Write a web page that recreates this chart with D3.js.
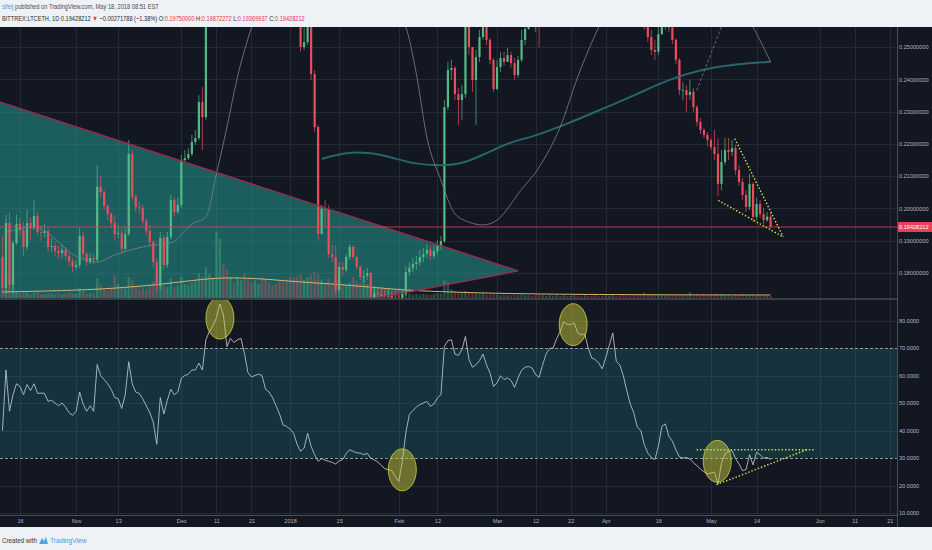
<!DOCTYPE html>
<html>
<head>
<meta charset="utf-8">
<script src="https://cdnjs.cloudflare.com/ajax/libs/d3/7.8.5/d3.min.js"></script>
<style>
body { margin: 0; background: #eef1f6; }
svg { display: block; font-family: "Liberation Sans", Arial, sans-serif; }
</style>
</head>
<body>
<script>
// daily candles, BITTREX:LTCETH, from 2017-10-11 to 2018-05-18
var firstDay = '2017-10-11';
var lastDay = '2018-05-18';
var firstOpen = 0.1850;

var closes = [
  0.1754, 0.1955, 0.1763, 0.1893, 0.1952, 0.1933, 0.1881, 0.1955, 0.1940, 0.1977,
  0.1927, 0.1924, 0.1930, 0.1881, 0.1884, 0.1868, 0.1862, 0.1872, 0.1853, 0.1837,
  0.1819, 0.1825, 0.1915, 0.1859, 0.1834, 0.1847, 0.1841, 0.2067, 0.2051, 0.2008,
  0.1983, 0.1955, 0.1921, 0.1924, 0.1875, 0.1921, 0.2169, 0.2036, 0.2005, 0.2002,
  0.1961, 0.1930, 0.1896, 0.1834, 0.1760, 0.1909, 0.1825, 0.1912, 0.2026, 0.1989,
  0.2011, 0.2150, 0.2156, 0.2169, 0.2206, 0.2218, 0.2330, 0.2283, 0.2700, 0.2900,
  0.3100, 0.3400, 0.4000, 0.3800, 0.3300, 0.3500, 0.3400, 0.3500, 0.3600, 0.3400,
  0.3150, 0.3100, 0.3120, 0.3150, 0.3130, 0.3000, 0.2980, 0.2940, 0.2880, 0.2820,
  0.2750, 0.2740, 0.2720, 0.2700, 0.2640, 0.2500, 0.2515, 0.2580, 0.2416, 0.2252,
  0.1921, 0.1998, 0.1995, 0.1859, 0.1850, 0.1748, 0.1819, 0.1810, 0.1850, 0.1881,
  0.1850, 0.1819, 0.1788, 0.1791, 0.1800, 0.1726, 0.1738, 0.1735, 0.1729, 0.1726,
  0.1729, 0.1723, 0.1717, 0.1707, 0.1735, 0.1803, 0.1816, 0.1828, 0.1834, 0.1850,
  0.1859, 0.1872, 0.1853, 0.1868, 0.1884, 0.1899, 0.2314, 0.2429, 0.2435, 0.2354,
  0.2336, 0.2354, 0.2600, 0.2500, 0.2398, 0.2469, 0.2531, 0.2600, 0.2522, 0.2460,
  0.2370, 0.2438, 0.2466, 0.2454, 0.2475, 0.2450, 0.2413, 0.2460, 0.2522, 0.2556,
  0.2610, 0.2600, 0.2590, 0.2565, 0.2640, 0.2700, 0.2730, 0.2740, 0.2800, 0.2880,
  0.2980, 0.2960, 0.2960, 0.2990, 0.2930, 0.2920, 0.2930, 0.2850, 0.2800, 0.2790,
  0.2770, 0.2750, 0.2800, 0.2860, 0.2950, 0.2800, 0.2780, 0.2740, 0.2710, 0.2680,
  0.2650, 0.2620, 0.2610, 0.2575, 0.2531, 0.2491, 0.2485, 0.2540, 0.2580, 0.2590,
  0.2560, 0.2522, 0.2460, 0.2367, 0.2367, 0.2351, 0.2361, 0.2314, 0.2268, 0.2243,
  0.2228, 0.2212, 0.2190, 0.2169, 0.2076, 0.2144, 0.2181, 0.2175, 0.2187, 0.2119,
  0.2082, 0.2042, 0.2005, 0.2076, 0.1974, 0.2014, 0.1983, 0.1964, 0.1975, 0.19428212
];

var highs = [
  0.1918, 0.1980, 0.1989, 0.1902, 0.1980, 0.1971, 0.1958, 0.1995, 0.1971, 0.2026,
  0.1989, 0.1949, 0.1952, 0.1940, 0.1909, 0.1896, 0.1884, 0.1890, 0.1881, 0.1865,
  0.1847, 0.1841, 0.1940, 0.1927, 0.1865, 0.1862, 0.1859, 0.2135, 0.2101, 0.2057,
  0.2011, 0.1989, 0.1977, 0.1949, 0.1940, 0.1946, 0.2212, 0.2181, 0.2045, 0.2020,
  0.2011, 0.1971, 0.1949, 0.1902, 0.1847, 0.1927, 0.1918, 0.1927, 0.2042, 0.2033,
  0.2033, 0.2166, 0.2181, 0.2187, 0.2228, 0.2243, 0.2351, 0.2376, 0.2850, 0.3000,
  0.3250, 0.3550, 0.4200, 0.4100, 0.3800, 0.3600, 0.3550, 0.3600, 0.3700, 0.3650,
  0.3450, 0.3250, 0.3250, 0.3250, 0.3250, 0.3150, 0.3080, 0.3020, 0.2980, 0.2920,
  0.2850, 0.2800, 0.2790, 0.2760, 0.2720, 0.2680, 0.2600, 0.2650, 0.2600, 0.2429,
  0.2259, 0.2011, 0.2026, 0.2011, 0.1887, 0.1887, 0.1834, 0.1834, 0.1859, 0.1890,
  0.1887, 0.1856, 0.1825, 0.1810, 0.1816, 0.1803, 0.1760, 0.1757, 0.1754, 0.1748,
  0.1748, 0.1745, 0.1741, 0.1735, 0.1748, 0.1822, 0.1834, 0.1847, 0.1853, 0.1872,
  0.1878, 0.1890, 0.1884, 0.1887, 0.1902, 0.1915, 0.2336, 0.2454, 0.2460, 0.2441,
  0.2373, 0.2382, 0.2680, 0.2650, 0.2491, 0.2491, 0.2553, 0.2650, 0.2640, 0.2528,
  0.2466, 0.2460, 0.2485, 0.2485, 0.2497, 0.2485, 0.2466, 0.2472, 0.2553, 0.2600,
  0.2650, 0.2660, 0.2650, 0.2620, 0.2680, 0.2750, 0.2780, 0.2790, 0.2850, 0.2950,
  0.3050, 0.3020, 0.3010, 0.3050, 0.3000, 0.2980, 0.2980, 0.2940, 0.2870, 0.2840,
  0.2820, 0.2800, 0.2840, 0.2900, 0.3000, 0.2960, 0.2830, 0.2800, 0.2760, 0.2730,
  0.2700, 0.2670, 0.2650, 0.2640, 0.2600, 0.2553, 0.2522, 0.2562, 0.2620, 0.2630,
  0.2610, 0.2580, 0.2528, 0.2466, 0.2392, 0.2382, 0.2398, 0.2373, 0.2320, 0.2280,
  0.2249, 0.2237, 0.2218, 0.2243, 0.2218, 0.2181, 0.2218, 0.2218, 0.2212, 0.2197,
  0.2135, 0.2094, 0.2057, 0.2107, 0.2082, 0.2033, 0.2026, 0.2002, 0.1989, 0.19872272
];

var lows = [
  0.1735, 0.1741, 0.1748, 0.1741, 0.1887, 0.1915, 0.1853, 0.1872, 0.1902, 0.1933,
  0.1915, 0.1902, 0.1909, 0.1865, 0.1865, 0.1853, 0.1844, 0.1847, 0.1841, 0.1822,
  0.1803, 0.1810, 0.1816, 0.1844, 0.1822, 0.1828, 0.1828, 0.1834, 0.2033, 0.1995,
  0.1964, 0.1940, 0.1902, 0.1909, 0.1859, 0.1865, 0.1915, 0.2026, 0.1989, 0.1983,
  0.1949, 0.1915, 0.1884, 0.1816, 0.1741, 0.1748, 0.1810, 0.1816, 0.1902, 0.1977,
  0.1983, 0.2002, 0.2141, 0.2150, 0.2163, 0.2197, 0.2212, 0.2181, 0.2274, 0.2650,
  0.2850, 0.3050, 0.3350, 0.3500, 0.3150, 0.3250, 0.3300, 0.3350, 0.3450, 0.3300,
  0.3050, 0.3000, 0.3050, 0.3050, 0.3050, 0.2950, 0.2900, 0.2870, 0.2830, 0.2760,
  0.2700, 0.2680, 0.2660, 0.2640, 0.2600, 0.2485, 0.2491, 0.2506, 0.2398, 0.2237,
  0.1902, 0.1921, 0.1940, 0.1847, 0.1834, 0.1735, 0.1741, 0.1791, 0.1803, 0.1841,
  0.1841, 0.1810, 0.1779, 0.1772, 0.1779, 0.1717, 0.1717, 0.1714, 0.1711, 0.1707,
  0.1711, 0.1704, 0.1698, 0.1686, 0.1698, 0.1729, 0.1791, 0.1803, 0.1810, 0.1822,
  0.1834, 0.1847, 0.1841, 0.1844, 0.1856, 0.1872, 0.1893, 0.2305, 0.2398, 0.2336,
  0.2259, 0.2274, 0.2342, 0.2475, 0.2361, 0.2259, 0.2454, 0.2522, 0.2506, 0.2447,
  0.2361, 0.2367, 0.2423, 0.2441, 0.2454, 0.2435, 0.2398, 0.2404, 0.2454, 0.2506,
  0.2553, 0.2570, 0.2546, 0.2500, 0.2570, 0.2620, 0.2680, 0.2700, 0.2720, 0.2780,
  0.2860, 0.2900, 0.2910, 0.2920, 0.2880, 0.2870, 0.2880, 0.2830, 0.2770, 0.2760,
  0.2740, 0.2720, 0.2730, 0.2790, 0.2840, 0.2760, 0.2740, 0.2700, 0.2680, 0.2650,
  0.2620, 0.2590, 0.2580, 0.2553, 0.2515, 0.2475, 0.2460, 0.2475, 0.2537, 0.2553,
  0.2546, 0.2509, 0.2447, 0.2351, 0.2336, 0.2299, 0.2336, 0.2299, 0.2255, 0.2231,
  0.2218, 0.2193, 0.2181, 0.2150, 0.2039, 0.2057, 0.2135, 0.2150, 0.2163, 0.2104,
  0.2070, 0.2026, 0.1989, 0.1995, 0.1958, 0.1964, 0.1971, 0.1952, 0.1958, 0.19369937
];

var volumes = [
  12, 30, 26, 18, 9, 7, 9, 8, 6, 7,
  8, 6, 5, 7, 6, 5, 6, 5, 6, 8,
  7, 6, 14, 10, 6, 7, 6, 28, 20, 12,
  10, 14, 33, 20, 15, 14, 30, 26, 16, 12,
  15, 12, 18, 24, 30, 24, 18, 16, 28, 16,
  18, 30, 20, 18, 22, 24, 35, 30, 44, 34,
  28, 95, 85, 50, 40, 30, 22, 30, 25, 35,
  28, 22, 25, 20, 30, 26, 22, 18, 20, 24,
  22, 26, 30, 28, 32, 34, 26, 30, 34, 38,
  34, 26, 22, 28, 18, 30, 24, 20, 18, 22,
  30, 24, 22, 32, 20, 18, 16, 14, 16, 14,
  12, 10, 12, 14, 10, 8, 6, 5, 6, 5,
  6, 5, 5, 6, 7, 6, 25, 22, 12, 10,
  8, 7, 10, 8, 7, 8, 6, 7, 5, 5,
  6, 5, 4, 5, 4, 4, 5, 4, 5, 4,
  4, 3, 4, 5, 4, 3, 4, 3, 4, 3,
  4, 3, 3, 4, 3, 3, 4, 3, 3, 4,
  3, 3, 4, 3, 4, 3, 3, 4, 3, 4,
  4, 5, 4, 8, 6, 5, 5, 4, 5, 4,
  4, 4, 5, 6, 4, 5, 8, 4, 5, 4,
  4, 5, 4, 4, 6, 5, 4, 4, 3, 4,
  4, 5, 4, 4, 4, 3, 4, 3, 3, 3
];

var rsi = [
  40, 62, 47, 53, 57, 56, 53, 56.7, 54.5, 57,
  53.5, 53.6, 53.5, 50.6, 51, 50, 49, 50, 48.5, 46.5,
  45.5, 47, 54, 49.6, 47, 49, 47, 64, 60, 58.5,
  57, 55, 52, 51.5, 48, 53, 65, 57, 54, 53.5,
  51.5, 49, 46.5, 43, 35, 52, 46, 51, 55, 53,
  54, 59, 60, 60.5, 62, 62, 64.5, 62, 73, 76,
  78, 81, 86, 82, 70.5, 73.5, 72, 73, 73.5, 68,
  61, 59.5, 60, 60.5, 60, 55, 54, 52, 49, 46,
  42, 41.5, 40.5, 39, 35, 32.4, 33.6, 39, 34.2, 31.2,
  28.8, 29.8, 29.2, 28.8, 28.4, 27.8, 29, 29.4, 31.6, 33,
  32.4, 31.9, 31.8, 31.2, 31.7, 29.9, 29.3, 28.6, 27.3, 26.1,
  25.8, 25.4, 23.3, 21.5, 28.8, 39.1, 45.8, 47.3, 48.5, 49.4,
  50, 50.6, 48.8, 49.6, 51.8, 53, 70.6, 72.7, 73, 67.8,
  67.3, 69.4, 74.2, 65.8, 63, 63.9, 65.4, 67.8, 63.9, 60.9,
  56, 57.3, 59.9, 58.5, 59.1, 58.2, 55.7, 59.1, 61.9, 63,
  63.3, 62.7, 60.3, 59.3, 63.9, 67.8, 69.8, 70, 73.4, 76,
  79.5, 78.5, 78.5, 79.1, 75.5, 74.8, 75.1, 70, 66.4, 65.8,
  64.5, 62.4, 66.5, 70.9, 75.5, 65.2, 63.9, 60, 54.5, 49.6,
  46.4, 41.2, 40, 34.8, 31.8, 30.2, 29.4, 34.2, 41.5, 42.4,
  37.9, 36.1, 33, 30.4, 30, 30.2, 29.6, 28.3, 27.2, 26,
  25, 24.3, 24.5, 24.9, 20.5, 28.2, 31.4, 32.4, 32.7, 29.8,
  27.8, 25.4, 25.8, 31.2, 27.5, 32.1, 31.2, 30, 30.2, 29.4
];

// moving averages: [date, value]
var maSlow = [
  ['2018-01-10', 0.2153], ['2018-01-16', 0.2172], ['2018-01-23', 0.2175], ['2018-01-30', 0.2159],
  ['2018-02-05', 0.2138], ['2018-02-13', 0.2132], ['2018-02-19', 0.2138], ['2018-02-25', 0.2166],
  ['2018-03-03', 0.2197], ['2018-03-07', 0.2212], ['2018-03-11', 0.2221], ['2018-03-21', 0.2262],
  ['2018-03-31', 0.2308], ['2018-04-10', 0.2354], ['2018-04-19', 0.2401], ['2018-04-29', 0.2432],
  ['2018-05-08', 0.2447], ['2018-05-18', 0.2454]
];
var maFast = [
  ['2017-10-12', 0.1927], ['2017-10-20', 0.1942], ['2017-11-02', 0.1847], ['2017-11-07', 0.1834],
  ['2017-11-12', 0.1856], ['2017-11-23', 0.1887], ['2017-11-28', 0.1893], ['2017-12-04', 0.1952],
  ['2017-12-08', 0.1974], ['2017-12-11', 0.2107], ['2017-12-14', 0.2252], ['2017-12-17', 0.2407],
  ['2017-12-21', 0.2562], ['2017-12-28', 0.2800], ['2018-01-10', 0.2950], ['2018-01-25', 0.2700],
  ['2018-02-03', 0.2562], ['2018-02-06', 0.2417], ['2018-02-09', 0.2221], ['2018-02-13', 0.2088],
  ['2018-02-17', 0.1984], ['2018-02-21', 0.1958], ['2018-02-25', 0.1949], ['2018-03-01', 0.1964],
  ['2018-03-05', 0.2014], ['2018-03-07', 0.2045], ['2018-03-13', 0.2128], ['2018-03-19', 0.2252],
  ['2018-03-24', 0.2407], ['2018-03-30', 0.2562], ['2018-04-15', 0.2800], ['2018-05-05', 0.2700],
  ['2018-05-13', 0.2562], ['2018-05-18', 0.2454]
];
var volMa = [
  ['2017-10-11', 8.6], ['2017-11-07', 11.4], ['2017-11-27', 20], ['2017-12-11', 30],
  ['2017-12-23', 28], ['2018-01-03', 23], ['2018-01-18', 18.6], ['2018-02-01', 11.4],
  ['2018-02-15', 8.6], ['2018-03-07', 5.7], ['2018-04-13', 4.5], ['2018-05-18', 4.3]
];

// drawings
var triangle = [['2017-10-10', 0.2331], ['2018-03-07', 0.1807], ['2017-10-10', 0.1496]];
var wedgeTop = [['2018-05-07T19:00Z', 0.2216], ['2018-05-21T14:00Z', 0.1912]];
var wedgeBottom = [['2018-05-03T02:00Z', 0.2025], ['2018-05-21T14:00Z', 0.1912]];
var dashedTrend = [['2018-04-26T22:00Z', 0.2366], ['2018-05-06T10:00Z', 0.2630]];
var rsiFlat = [['2018-04-26T22:00Z', 33], ['2018-05-30T14:00Z', 33]];
var rsiRising = [['2018-05-02T14:00Z', 20.3], ['2018-05-28T07:00Z', 33]];
var rsiCircles = [['2017-12-12', 80.9], ['2018-02-02', 25.7], ['2018-03-22T17:00Z', 78.5], ['2018-05-02T19:00Z', 28.8]];

var priceTicks = [0.18, 0.19, 0.20, 0.21, 0.22, 0.23, 0.24, 0.25];
var rsiTicks = [10, 20, 30, 40, 50, 60, 70, 80];
var timeTicks = ['2017-10-16', '2017-11-01', '2017-11-13', '2017-12-01', '2017-12-11', '2017-12-21',
  '2018-01-01', '2018-01-15', '2018-02-01', '2018-02-12', '2018-03-01', '2018-03-12', '2018-03-22',
  '2018-04-01', '2018-04-16', '2018-05-01', '2018-05-14', '2018-06-01', '2018-06-11', '2018-06-21'];
var timeLabels = ['16', 'Nov', '13', 'Dec', '11', '21', '2018', '15', 'Feb', '12', 'Mar', '12', '22',
  'Apr', '16', 'May', '14', 'Jun', '11', '21'];

var lastPrice = 0.19428212;

var UP = '#53b987', DOWN = '#eb4d5c';
var paneRight = 897, priceTop = 27, priceBottom = 298, rsiTop = 300, rsiBottom = 515, chartBottom = 527;

var start = new Date(firstDay), end = new Date(lastDay);
var days = closes.map(function (c, i) { return d3.utcDay.offset(start, i); });
var opens = closes.map(function (c, i) { return i === 0 ? firstOpen : closes[i - 1]; });

var x = d3.scaleUtc().domain([start, end]).range([2.46, 770.6]);
var y = d3.scaleLinear().domain([0.18, 0.25]).range([273.1, 47]);
var yr = d3.scaleLinear().domain([30, 70]).range([458, 348]);
var yv = d3.scaleLinear().domain([0, 100]).range([priceBottom, 228]);

function px(d) { return x(new Date(d[0])); }

var svg = d3.select('body').append('svg').attr('width', 932).attr('height', 550);
var defs = svg.append('defs');
defs.append('clipPath').attr('id', 'clipPrice').append('rect')
  .attr('x', 0).attr('y', priceTop).attr('width', paneRight).attr('height', priceBottom - priceTop);
defs.append('clipPath').attr('id', 'clipRsi').append('rect')
  .attr('x', 0).attr('y', rsiTop).attr('width', paneRight).attr('height', rsiBottom - rsiTop);
defs.append('clipPath').attr('id', 'clipRsiAxis').append('rect')
  .attr('x', paneRight).attr('y', rsiTop).attr('width', 40).attr('height', rsiBottom - rsiTop);

// squeeze a text horizontally so it fills the given width (the reference uses a narrow face)
function fitWidth(g, x0, width) {
  var len = g.node().getBBox().width;
  g.attr('transform', 'translate(' + x0 + ',0) scale(' + (width / len) + ',1)');
}

// chart background
svg.append('rect').attr('x', 0).attr('y', priceTop).attr('width', 932).attr('height', chartBottom - priceTop)
  .attr('fill', '#131722');

// header
var hg1 = svg.append('g');
var h1 = hg1.append('text').attr('x', 0).attr('y', 9).attr('font-size', 7.6).attr('fill', '#4a4a4a');
h1.append('tspan').attr('fill', '#3d9ee0').text('sifeij');
h1.append('tspan').text(' published on TradingView.com, May 18, 2018 08:51 EST');
fitWidth(hg1, 2, 157);

var hg2 = svg.append('g');
var h2 = hg2.append('text').attr('x', 0).attr('y', 21).attr('font-size', 7.6).attr('fill', '#2a2a2a');
h2.append('tspan').text('BITTREX:LTCETH, 1D 0.19428212 ');
h2.append('tspan').attr('fill', '#e5353f').text('\u25BC');
h2.append('tspan').text(' \u22120.00271788 (\u22121.38%) O:');
h2.append('tspan').attr('fill', '#e5353f').text('0.19750000');
h2.append('tspan').text(' H:');
h2.append('tspan').attr('fill', '#e5353f').text('0.19872272');
h2.append('tspan').text(' L:');
h2.append('tspan').attr('fill', '#e5353f').text('0.19369937');
h2.append('tspan').text(' C:');
h2.append('tspan').attr('fill', '#e5353f').text('0.19428212');
fitWidth(hg2, 2, 303);

// grid
var grid = svg.append('g').attr('stroke', '#242935').attr('stroke-width', 1);
grid.selectAll('.vg').data(timeTicks).enter().append('line')
  .attr('x1', function (d) { return Math.round(x(new Date(d))) + 0.5; })
  .attr('x2', function (d) { return Math.round(x(new Date(d))) + 0.5; })
  .attr('y1', priceTop).attr('y2', rsiBottom);
grid.selectAll('.hg').data(priceTicks).enter().append('line')
  .attr('x1', 0).attr('x2', paneRight)
  .attr('y1', function (d) { return Math.round(y(d)) + 0.5; })
  .attr('y2', function (d) { return Math.round(y(d)) + 0.5; });
grid.selectAll('.rg').data(rsiTicks.filter(function (d) { return d !== 30 && d !== 70; })).enter().append('line')
  .attr('x1', 0).attr('x2', paneRight)
  .attr('y1', function (d) { return Math.round(yr(d)) + 0.5; })
  .attr('y2', function (d) { return Math.round(yr(d)) + 0.5; });

// price pane
var price = svg.append('g').attr('clip-path', 'url(#clipPrice)');

price.append('path')
  .attr('d', d3.line().x(px).y(function (d) { return y(d[1]); })(triangle) + 'Z')
  .attr('fill', 'rgba(38,166,154,0.5)');

price.selectAll('.vol').data(volumes).enter().append('rect')
  .attr('x', function (d, i) { return x(days[i]) - 1.2; })
  .attr('width', 2.4)
  .attr('y', function (d) { return yv(d); })
  .attr('height', function (d) { return priceBottom - yv(d); })
  .attr('fill', function (d, i) { return closes[i] >= opens[i] ? UP : DOWN; })
  .attr('opacity', 0.35);

price.append('path')
  .attr('d', d3.line().x(px).y(function (d) { return yv(d[1]); }).curve(d3.curveBasis)(volMa))
  .attr('fill', 'none').attr('stroke', '#d8b26a').attr('stroke-width', 1);

var candle = price.selectAll('.candle').data(closes).enter().append('g')
  .attr('fill', function (d, i) { return d >= opens[i] ? UP : DOWN; })
  .attr('stroke', function (d, i) { return d >= opens[i] ? UP : DOWN; });
candle.append('line')
  .attr('x1', function (d, i) { return x(days[i]); })
  .attr('x2', function (d, i) { return x(days[i]); })
  .attr('y1', function (d, i) { return y(highs[i]); })
  .attr('y2', function (d, i) { return y(lows[i]); })
  .attr('stroke-width', 0.7);
candle.append('rect')
  .attr('stroke', 'none')
  .attr('x', function (d, i) { return x(days[i]) - 1.1; })
  .attr('width', 2.2)
  .attr('y', function (d, i) { return y(Math.max(d, opens[i])); })
  .attr('height', function (d, i) { return Math.max(0.8, Math.abs(y(d) - y(opens[i]))); });

price.append('path')
  .attr('d', d3.line().x(px).y(function (d) { return y(d[1]); }).curve(d3.curveBasis)(maSlow))
  .attr('fill', 'none').attr('stroke', '#24666b').attr('stroke-width', 2);
price.append('path')
  .attr('d', d3.line().x(px).y(function (d) { return y(d[1]); }).curve(d3.curveMonotoneX)(maFast))
  .attr('fill', 'none').attr('stroke', '#7c808a').attr('stroke-width', 0.8);

price.append('path')
  .attr('d', d3.line().x(px).y(function (d) { return y(d[1]); })(triangle.slice(0, 2)))
  .attr('fill', 'none').attr('stroke', '#8f2f4d').attr('stroke-width', 1.5);
price.append('path')
  .attr('d', d3.line().x(px).y(function (d) { return y(d[1]); })(triangle.slice(1)))
  .attr('fill', 'none').attr('stroke', '#8f2f4d').attr('stroke-width', 1.5);

price.append('line')
  .attr('x1', 0).attr('x2', paneRight)
  .attr('y1', y(lastPrice)).attr('y2', y(lastPrice))
  .attr('stroke', '#e0405a').attr('stroke-width', 0.8);

[wedgeTop, wedgeBottom].forEach(function (seg) {
  price.append('path')
    .attr('d', d3.line().x(px).y(function (d) { return y(d[1]); })(seg))
    .attr('fill', 'none').attr('stroke', '#e6e34a').attr('stroke-width', 1.4)
    .attr('stroke-dasharray', '1.4,2');
});
price.append('path')
  .attr('d', d3.line().x(px).y(function (d) { return y(d[1]); })(dashedTrend))
  .attr('fill', 'none').attr('stroke', '#6e737d').attr('stroke-width', 0.9)
  .attr('stroke-dasharray', '3,2');

// pane separator
svg.append('rect').attr('x', 0).attr('y', priceBottom).attr('width', paneRight).attr('height', rsiTop - priceBottom)
  .attr('fill', '#3a3e49');

// RSI pane
var rsiG = svg.append('g').attr('clip-path', 'url(#clipRsi)');
rsiG.append('rect').attr('x', 0).attr('width', paneRight)
  .attr('y', yr(70)).attr('height', yr(30) - yr(70))
  .attr('fill', 'rgba(33,150,160,0.22)');
[70, 30].forEach(function (v) {
  rsiG.append('line').attr('x1', 0).attr('x2', paneRight)
    .attr('y1', Math.round(yr(v)) + 0.5).attr('y2', Math.round(yr(v)) + 0.5)
    .attr('stroke', '#a0a4ad').attr('stroke-width', 0.9).attr('stroke-dasharray', '3,2');
});
rsiG.append('path')
  .attr('d', d3.line().x(function (d, i) { return x(days[i]); }).y(function (d) { return yr(d); })(rsi))
  .attr('fill', 'none').attr('stroke', '#b5bdc8').attr('stroke-width', 0.9);

rsiG.selectAll('.circ').data(rsiCircles).enter().append('ellipse')
  .attr('cx', px).attr('cy', function (d) { return yr(d[1]); })
  .attr('rx', 14).attr('ry', 21)
  .attr('fill', 'rgba(200,200,60,0.5)').attr('stroke', 'rgba(215,215,70,0.75)').attr('stroke-width', 1);

rsiG.append('path')
  .attr('d', d3.line().x(px).y(function (d) { return yr(d[1]); })(rsiFlat))
  .attr('fill', 'none').attr('stroke', '#c3e43c').attr('stroke-width', 1.4).attr('stroke-dasharray', '1.4,2');
rsiG.append('path')
  .attr('d', d3.line().x(px).y(function (d) { return yr(d[1]); })(rsiRising))
  .attr('fill', 'none').attr('stroke', '#e0e24a').attr('stroke-width', 1.4).attr('stroke-dasharray', '1.4,2');

// axes frames
svg.append('line').attr('x1', paneRight + 0.5).attr('x2', paneRight + 0.5).attr('y1', priceTop).attr('y2', chartBottom)
  .attr('stroke', '#4a4e59');
svg.append('line').attr('x1', 0).attr('x2', paneRight).attr('y1', rsiBottom + 0.5).attr('y2', rsiBottom + 0.5)
  .attr('stroke', '#4a4e59');

var axisText = function (g) {
  g.select('.domain').remove();
  g.selectAll('.tick line').remove();
  g.selectAll('text').attr('fill', '#b2b5be').attr('font-size', 5.6)
    .attr('font-family', '"Liberation Sans", Arial, sans-serif');
};

svg.append('g').attr('transform', 'translate(' + (paneRight + 2) + ',0)')
  .call(d3.axisRight(y).tickValues(priceTicks).tickFormat(d3.format('.8f')).tickSize(0).tickPadding(0))
  .call(axisText);

svg.append('g').attr('clip-path', 'url(#clipRsiAxis)')
  .append('g').attr('transform', 'translate(' + (paneRight + 2) + ',0)')
  .call(d3.axisRight(yr).tickValues(rsiTicks).tickFormat(d3.format('.4f')).tickSize(0).tickPadding(0))
  .call(axisText);

svg.append('g').attr('transform', 'translate(0,' + (rsiBottom + 1) + ')')
  .call(d3.axisBottom(x).tickValues(timeTicks.map(function (d) { return new Date(d); }))
    .tickFormat(function (d, i) { return timeLabels[i]; }).tickSize(0).tickPadding(3))
  .call(axisText);

// last price label
svg.append('rect').attr('x', paneRight + 1).attr('y', y(lastPrice) - 5).attr('width', 34).attr('height', 10)
  .attr('fill', '#e8425a');
svg.append('text').attr('x', paneRight + 2).attr('y', y(lastPrice) + 2)
  .attr('font-size', 5.6).attr('fill', '#fff').text(d3.format('.8f')(lastPrice));

// footer
var fg1 = svg.append('g');
fg1.append('text').attr('x', 0).attr('y', 543).attr('font-size', 7.6).attr('fill', '#333').text('Created with');
fitWidth(fg1, 2, 35);
var logo = svg.append('g').attr('transform', 'translate(39,536)').attr('fill', '#3d9ee0');
logo.append('path').attr('d', 'M0,8 L3,2 L5,5 L7,1 L9,8 Z').attr('opacity', 0.9);
var fg2 = svg.append('g');
fg2.append('text').attr('x', 0).attr('y', 543).attr('font-size', 7.6).attr('fill', '#3d9ee0').text('TradingView');
fitWidth(fg2, 50, 37);
</script>
</body>
</html>
